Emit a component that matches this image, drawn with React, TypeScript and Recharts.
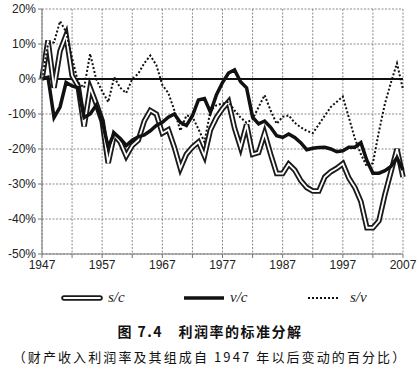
import React from 'react';
import { LineChart, Line, XAxis, YAxis, CartesianGrid, ReferenceLine } from 'recharts';

const years = [
  1947, 1948, 1949, 1950, 1951, 1952, 1953, 1954, 1955, 1956,
  1957, 1958, 1959, 1960, 1961, 1962, 1963, 1964, 1965, 1966,
  1967, 1968, 1969, 1970, 1971, 1972, 1973, 1974, 1975, 1976,
  1977, 1978, 1979, 1980, 1981, 1982, 1983, 1984, 1985, 1986,
  1987, 1988, 1989, 1990, 1991, 1992, 1993, 1994, 1995, 1996,
  1997, 1998, 1999, 2000, 2001, 2002, 2003, 2004, 2005, 2006,
  2007,
];

const sc = [
  0, 11, -2.5, 8, 12.5, 1, -2, -13.5, -2.5, -7,
  -12, -24, -16, -18, -22, -19, -17.5, -12, -9, -10,
  -15.5, -14.5, -19.5, -25.5, -21.5, -19.5, -18, -22, -14.5, -11,
  -8.5, -6.5, -14, -19.5, -13, -21.5, -21, -15.5, -21.5, -27,
  -27, -24.3, -26, -29, -31, -32, -32, -28, -26.5, -25.5,
  -24.2, -28.3, -31, -35, -42.5, -42.5, -40.5, -33, -26.5, -20,
  -28,
];

const vc = [
  0, 0.5, -11, -8, -1, -2, -2.5, -11, -10, -7.5,
  -12, -19.5, -15.5, -17, -19, -17.5, -16.5, -16, -14.8, -13.3,
  -12.4, -10.9, -10, -12.4, -13.3, -10.5, -6, -5.6, -9.5, -4.5,
  -1, 1.7, 2.6, -0.8, -2.5, -10.9, -12.8, -12, -13.8, -16.2,
  -16.7, -15.7, -16.7, -18.2, -20.2, -19.8, -19.6, -19.5, -20, -20.8,
  -20.5, -19.5, -19.5, -18.2, -23.3, -26.9, -26.9, -26.2, -25, -22.5,
  -26,
];

const sv = [
  0, 10, 10.5, 16.5, 13.5, 6, -1, -2.5, 7.2, 0,
  -3.5, -6.6, 0.5, -2.5, -4, 0, 1.5, 4.5, 6.7, 4,
  -1.7, -4, -9, -14.8, -10.4, -10.8, -14.3, -18, -9, -7.5,
  -7, -6.5, -9, -11, -12.5, -11.5, -8, -4.6, -9, -12.8,
  -10.8, -10.4, -12.5, -13.8, -14.8, -15.5, -13, -10.5, -8, -6.5,
  -5, -11, -17, -21.5, -25, -24, -15, -7, -1, 4.5,
  -3,
];

const xTicks = [1947, 1952, 1957, 1962, 1967, 1972, 1977, 1982, 1987, 1992, 1997, 2002, 2007];
const yTicks = [-50, -40, -30, -20, -10, 0, 10, 20];

const seriesNames = ['s/c', 'v/c', 's/v'];
const title = '图 7.4　利润率的标准分解';
const subtitle = '（财产收入利润率及其组成自 1947 年以后变动的百分比）';

const data = years.map((y, i) => ({ year: y, sc: sc[i], vc: vc[i], sv: sv[i] }));

const tickStyle = { fontFamily: '"Liberation Sans", Arial, sans-serif', fontSize: 12, fill: '#222' };

export default function App() {
  return (
    <div style={{ position: 'absolute', left: 0, top: 0, width: 420, height: 370, background: '#fff' }}>
      <LineChart width={420} height={280} data={data} margin={{ top: 9, right: 17, bottom: 0, left: 0 }}>
        <CartesianGrid stroke="#8a8a8a" strokeDasharray="2 1.5" strokeWidth={1} />
        <XAxis
          dataKey="year"
          type="number"
          domain={[1947, 2007]}
          ticks={xTicks}
          interval={0}
          height={26}
          tickSize={4}
          tick={tickStyle}
          tickFormatter={(v: number) => ((v - 1947) % 10 === 0 ? String(v) : '')}
          axisLine={{ stroke: '#777' }}
          tickLine={{ stroke: '#777' }}
        />
        <YAxis
          type="number"
          domain={[-50, 20]}
          ticks={yTicks}
          interval={0}
          width={42}
          tickSize={4}
          tick={tickStyle}
          tickFormatter={(v: number) => `${v}%`}
          axisLine={{ stroke: '#777' }}
          tickLine={{ stroke: '#777' }}
        />
        <ReferenceLine y={0} stroke="#111" strokeWidth={2} />
        <Line dataKey="sc" stroke="#1a1a1a" strokeWidth={5.5} dot={false} isAnimationActive={false} strokeLinejoin="miter" />
        <Line dataKey="sc" stroke="#fff" strokeWidth={1.8} dot={false} isAnimationActive={false} strokeLinejoin="miter" />
        <Line dataKey="vc" stroke="#111" strokeWidth={3.5} dot={false} isAnimationActive={false} />
        <Line dataKey="sv" stroke="#111" strokeWidth={2} strokeDasharray="2 2" dot={false} isAnimationActive={false} />
      </LineChart>

      {/* legend */}
      <svg style={{ position: 'absolute', left: 0, top: 286 }} width={420} height={24}>
        <line x1={64} y1={12} x2={100} y2={12} stroke="#1a1a1a" strokeWidth={5.5} strokeLinecap="round" />
        <line x1={64} y1={12} x2={100} y2={12} stroke="#fff" strokeWidth={1.8} strokeLinecap="round" />
        <text x={108} y={16} fontFamily='"Liberation Serif", "Times New Roman", serif' fontStyle="italic" fontSize={15} fill="#222">{seriesNames[0]}</text>
        <line x1={184} y1={12} x2={224} y2={12} stroke="#111" strokeWidth={3.5} />
        <text x={230} y={16} fontFamily='"Liberation Serif", "Times New Roman", serif' fontStyle="italic" fontSize={15} fill="#222">{seriesNames[1]}</text>
        <line x1={308} y1={12} x2={338} y2={12} stroke="#111" strokeWidth={2} strokeDasharray="2 2" />
        <text x={350} y={16} fontFamily='"Liberation Serif", "Times New Roman", serif' fontStyle="italic" fontSize={15} fill="#222">{seriesNames[2]}</text>
      </svg>

      <div style={{ position: 'absolute', left: 0, top: 321, width: 420, textAlign: 'center', fontFamily: '"Noto Sans CJK SC", sans-serif', fontWeight: 700, fontSize: 14, letterSpacing: 1.5, color: '#111', lineHeight: '20px', whiteSpace: 'pre' }}>
        {title}
      </div>
      <div style={{ position: 'absolute', left: 0, top: 347, width: 420, textAlign: 'center', fontFamily: '"Noto Sans CJK SC", sans-serif', fontWeight: 400, fontSize: 13, letterSpacing: 2.1, color: '#111', lineHeight: '20px', whiteSpace: 'pre' }}>
        {subtitle}
      </div>
    </div>
  );
}
